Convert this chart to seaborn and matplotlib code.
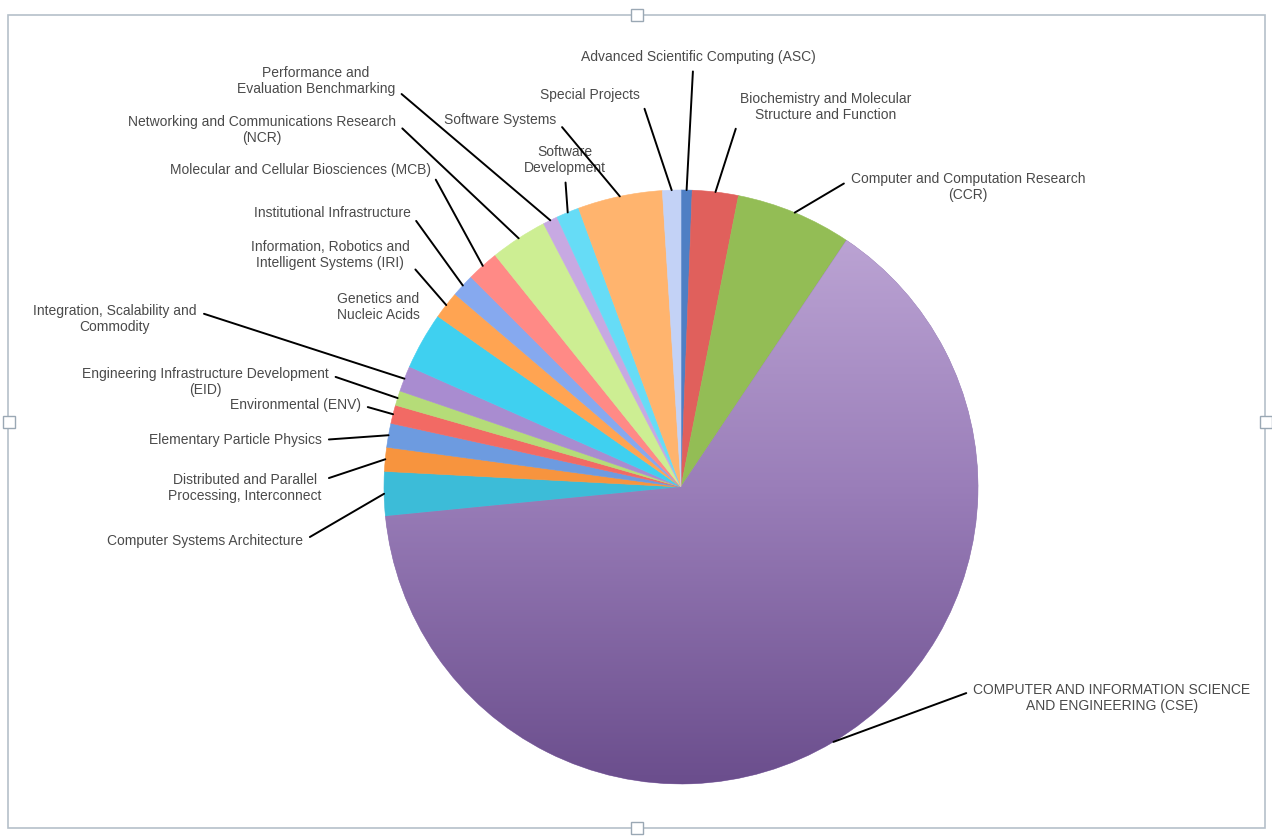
import numpy as np
import matplotlib.pyplot as plt
import seaborn as sns
from matplotlib.colors import LinearSegmentedColormap
from matplotlib.patches import Rectangle

sns.set_theme(style='white')
plt.rcParams['font.family'] = ['Liberation Sans', 'DejaVu Sans']

W, H = 1272, 838

# share of funding per program (percent)
programs = [
    'Advanced Scientific Computing (ASC)',
    'Biochemistry and Molecular\nStructure and Function',
    'Computer and Computation Research\n(CCR)',
    'COMPUTER AND INFORMATION SCIENCE\nAND ENGINEERING (CSE)',
    'Computer Systems Architecture',
    'Distributed and Parallel\nProcessing, Interconnect',
    'Elementary Particle Physics',
    'Environmental (ENV)',
    'Engineering Infrastructure Development\n(EID)',
    'Integration, Scalability and\nCommodity',
    'Genetics and\nNucleic Acids',
    'Information, Robotics and\nIntelligent Systems (IRI)',
    'Institutional Infrastructure',
    'Molecular and Cellular Biosciences (MCB)',
    'Networking and Communications Research\n(NCR)',
    'Performance and\nEvaluation Benchmarking',
    'Software\nDevelopment',
    'Software Systems',
    'Special Projects',
]
share = [0.6, 2.5, 6.3, 64.0, 2.4, 1.3, 1.3, 1.0, 0.8, 1.4,
         3.1, 1.5, 1.25, 1.75, 3.1, 0.8, 1.25, 4.6, 1.0]

colors = ['#4f7fc4', '#e0605c', '#93bd55', '#9a80b8', '#3cbcd8', '#f7943e',
          '#6d9be0', '#f26a64', '#b5dc78', '#a98cd0', '#3fd0f0', '#ffa452',
          '#86a9ef', '#ff8a86', '#cdee93', '#c7a9e2', '#66dcf6', '#ffb46e',
          '#c3d2f6']

# label centres in pixels (origin top-left) and where the leader leaves the text
label_pos = [(698, 57), (826, 107), (968, 187), (1112, 698), (205, 541),
             (245, 488), (235, 440), (295, 405), (205, 382), (115, 319),
             (378, 307), (330, 255), (332, 213), (300, 170), (262, 130),
             (316, 81), (565, 160), (500, 120), (590, 95)]
label_rel = [(0.48, 0), (0, 0.25), (0, 0.75), (0, 0.75), (1, 0.5),
             (1, 0.75), (1, 0.5), (1, 0.5), (1, 0.75), (1, 0.75),
             None, (1, 0.25), (1, 0.5), (1, 0.5), (1, 0.75),
             (1, 0.25), (0.5, 0), (1, 0.5), (1, 0.5)]

cx, cy, R = 681, 487, 297

fig = plt.figure(figsize=(W / 100, H / 100), dpi=100)
ax = fig.add_axes([0, 0, 1, 1])
wedges, _ = ax.pie(share, colors=colors, startangle=90, counterclock=False,
                   radius=R, center=(cx, H - cy),
                   wedgeprops=dict(linewidth=0.4, edgecolor='none'))
for w, c in zip(wedges, colors):
    w.set_edgecolor(c)

# shaded fill for the big CISE slice
big = wedges[3]
grad = np.linspace(0, 1, 256).reshape(-1, 1) * np.ones((1, 2))
cmap = LinearSegmentedColormap.from_list('cise', ['#6a4d8c', '#9a7eb9', '#c2abd9'])
img = ax.imshow(grad, cmap=cmap, extent=[cx - R - 5, cx + R + 5, H - cy - R - 5, H - cy + R + 5],
                origin='lower', aspect='auto', zorder=1.5)
img.set_clip_path(big)

for i, w in enumerate(wedges):
    mid = np.deg2rad((w.theta1 + w.theta2) / 2)
    px, py = cx + R * np.cos(mid), H - cy + R * np.sin(mid)
    tx, ty = label_pos[i]
    rel = label_rel[i]
    if rel is None:
        ax.text(tx, H - ty, programs[i], ha='center', va='center',
                fontsize=10, color='#4a4a4a')
        continue
    ax.annotate(programs[i], xy=(px, py), xytext=(tx, H - ty),
                ha='center', va='center', fontsize=10, color='#4a4a4a',
                arrowprops=dict(arrowstyle='-', color='black', lw=1.4,
                                relpos=rel, shrinkA=3, shrinkB=0))

# chart frame and selection handles
ax.add_patch(Rectangle((8, H - 828), 1257, 813, fill=False, ec='#b5c0ca', lw=1.2))
for hx, hy in [(637, 828), (637, 15), (1266, 422), (9, 422)]:
    ax.add_patch(Rectangle((hx - 6, H - hy - 6), 12, 12, fc='white', ec='#9aa8b4', lw=1))

ax.set_xlim(0, W)
ax.set_ylim(0, H)
ax.set_aspect('equal')
ax.axis('off')
fig.savefig('out.png', dpi=100, facecolor='white')
plt.close()
